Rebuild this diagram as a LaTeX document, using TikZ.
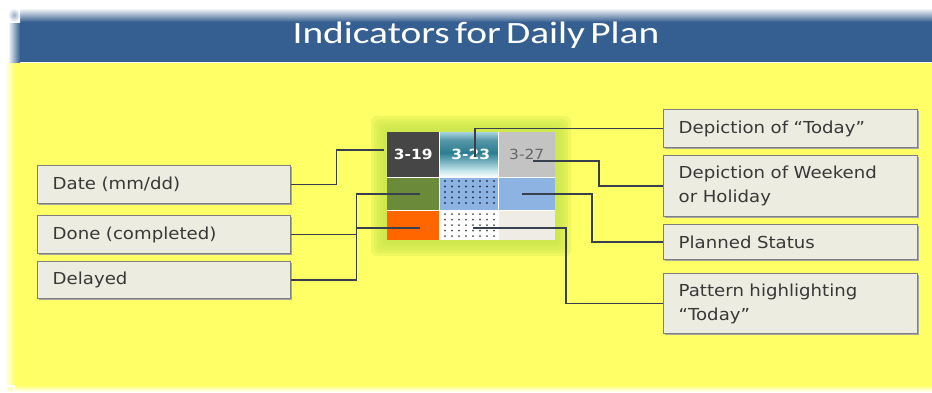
\documentclass[tikz,border=0pt]{standalone}
\usepackage{fontspec}
\setmainfont[FakeStretch=1.1]{DejaVu Sans}
\newfontfamily\titlefont[FakeStretch=1.27,WordSpace=0.6]{Carlito}
\definecolor{hdr}{HTML}{365F91}
\definecolor{ylw}{HTML}{FFFF66}
\definecolor{glow}{HTML}{C8E64C}
\definecolor{boxfill}{HTML}{ECECE0}
\definecolor{boxline}{HTML}{7F7F7F}
\definecolor{conn}{HTML}{38404E}
\definecolor{darkcell}{HTML}{464646}
\definecolor{greycell}{HTML}{C3C3C3}
\definecolor{olive}{HTML}{6B8A3A}
\definecolor{lblue}{HTML}{8DB3E2}
\definecolor{orng}{HTML}{FF6600}
\definecolor{beige}{HTML}{EEECE4}
\definecolor{dotc}{HTML}{2A3A5C}
\definecolor{tealD}{HTML}{2B7D91}
\definecolor{tealL}{HTML}{BFE2EA}
\definecolor{tealT}{HTML}{A8D3DD}
\pgfdeclareverticalshading{tealsh}{100bp}{color(0bp)=(white); color(25bp)=(white); color(33bp)=(tealL); color(52bp)=(tealD); color(66bp)=(tealD!80!white); color(75bp)=(tealT); color(100bp)=(tealT)}
\tikzset{
  label box/.style={draw=boxline, line width=1.4pt, fill=boxfill, anchor=north west,
    inner xsep=15pt, inner ysep=0pt, minimum width=#1, text width=#1-30pt, align=left,
    font=\fontsize{16.5}{24}\selectfont, text=black!78},
  cell/.style={anchor=north west, inner sep=0pt, minimum width=#1, font=\fontsize{14}{14}\selectfont\bfseries},
  connector/.style={draw=conn, line width=1.5pt},
}
\begin{document}
\begin{tikzpicture}[x=1pt,y=-1pt]
\useasboundingbox (0,0) rectangle (932,392);
\fill[white] (0,0) rectangle (932,392);
% yellow area with soft edges
\fill[ylw] (15,63) rectangle (932,385);
\shade[left color=white, right color=ylw] (5,63) rectangle (15,385);
\shade[top color=ylw, bottom color=white] (15,385) rectangle (932,392);
\shade[inner color=ylw!60!white, outer color=white] (5,385) rectangle (15,392);
% header with soft edges
\fill[hdr] (20,22) rectangle (932,62);
\shade[top color=white, bottom color=hdr] (20,8) rectangle (932,22);
\shade[left color=white, right color=hdr] (8,22) rectangle (20,62);
\shade[inner color=hdr!50!white, outer color=white] (8,8) rectangle (20,22);
\node[text=white, font=\titlefont\fontsize{31}{31}\selectfont] (title) at (476,35) {Indicators for Daily Plan};
% glow around grid
\foreach \i in {16,13,10,7,4}{\fill[glow,opacity=0.3,rounded corners=6pt] (387-\i,132-\i) rectangle (555+\i,240+\i);}
% grid cells
\node[cell=52pt, minimum height=45pt, fill=darkcell, text=white] (c19) at (387,132) {3-19};
\shade[shading=tealsh] (439,132) rectangle (498,177);
\node[cell=59pt, minimum height=45pt, text=white] (c23) at (441,132) {3-23};
\node[cell=57pt, minimum height=45pt, fill=greycell, text=black!60, font=\fontsize{14}{14}\selectfont] (c27) at (498,132) {3-27};
\node[cell=52pt, minimum height=33pt, fill=olive] (done1) at (387,177) {};
\node[cell=59pt, minimum height=33pt, fill=lblue] (dot1) at (439,177) {};
\node[cell=57pt, minimum height=33pt, fill=lblue] (plan1) at (498,177) {};
\node[cell=52pt, minimum height=30pt, fill=orng] (delay1) at (387,210) {};
\node[cell=59pt, minimum height=30pt, fill=white] (dot2) at (439,210) {};
\node[cell=57pt, minimum height=30pt, fill=beige] (plan2) at (498,210) {};
\draw[white, line width=0.8pt] (439,132) -- (439,240) (498,132) -- (498,240) (387,177) -- (555,177) (387,210) -- (555,210);
\foreach \xx in {445,452,...,495}{\foreach \yy in {181,186.5,...,208}{\fill[dotc] (\xx,\yy) circle (1.1);}}
\foreach \xx in {445,452,...,495}{\foreach \yy in {214,219.5,...,238}{\fill[black!70] (\xx,\yy) circle (1.0);}}
% label boxes (shadows first)
\foreach \a/\b/\c/\d in {37/165/290/203, 37/215/290/253, 37/261/290/298, 663/109/917/147, 663/155/917/216, 663/224/917/259, 663/273/917/333}{\fill[black!35] (\a+2,\b+2) rectangle (\c+2,\d+2);}
\node[label box=253pt, minimum height=38pt] (date) at (37,165) {Date (mm/dd)};
\node[label box=253pt, minimum height=38pt] (done) at (37,215) {Done (completed)};
\node[label box=253pt, minimum height=37pt] (delayed) at (37,261) {Delayed};
\node[label box=254pt, minimum height=38pt] (today) at (663,109) {Depiction of “Today”};
\node[label box=254pt, minimum height=61pt] (weekend) at (663,155) {Depiction of Weekend\\or Holiday};
\node[label box=254pt, minimum height=35pt] (planned) at (663,224) {Planned Status};
\node[label box=254pt, minimum height=60pt] (pattern) at (663,273) {Pattern highlighting\\“Today”};
% connector end points
\coordinate (pDate) at (384,150);
\coordinate (pDone) at (420,194);
\coordinate (pDelayed) at (420,228);
\coordinate (pToday) at (475,157);
\coordinate (pWeekend) at (533,161);
\coordinate (pPlanned) at (522,194);
\coordinate (pPattern) at (473,228);
\draw[connector] (date.east) -- ++(45,0) |- (pDate);
\draw[connector] (done.east) -- ++(65,0) |- (pDone);
\draw[connector] (delayed.east) -- ++(65,0) |- (pDelayed);
\draw[connector] (today.west) -| (pToday);
\draw[connector] (weekend.west) -- ++(-64,0) |- (pWeekend);
\draw[connector] (planned.west) -- ++(-71,0) |- (pPlanned);
\draw[connector] (pattern.west) -- ++(-97,0) |- (pPattern);
\end{tikzpicture}
\end{document}
